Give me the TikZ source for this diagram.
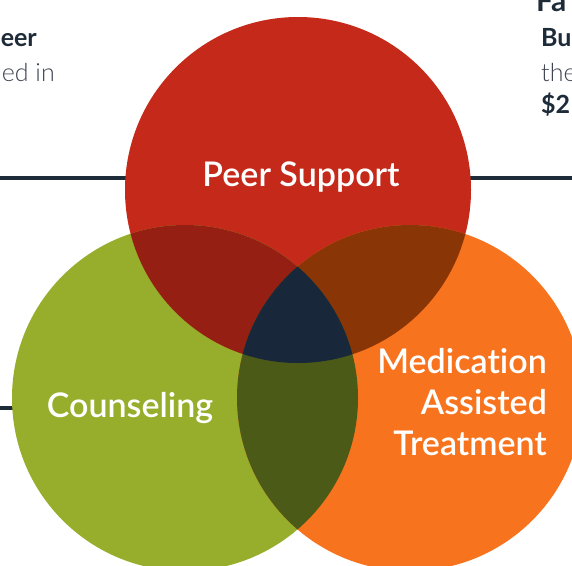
\documentclass[tikz,border=0pt]{standalone}
\usepackage{fontspec}
\setmainfont{Lato}[Ligatures=CommonOff]
\newfontfamily\latolight{Lato Light}[Ligatures=CommonOff]
\newfontfamily\latosemi{Lato Semibold}[Ligatures=CommonOff]
\definecolor{cred}{HTML}{C4291A}
\definecolor{cgreen}{HTML}{96AE2B}
\definecolor{corange}{HTML}{F7731E}
\definecolor{crg}{HTML}{951F12}
\definecolor{cro}{HTML}{8A3506}
\definecolor{cgo}{HTML}{4B5A17}
\definecolor{call}{HTML}{182739}
\definecolor{cline}{HTML}{1E2B38}
\definecolor{ctext}{HTML}{1E2B38}
\definecolor{clight}{HTML}{3E4550}
\tikzset{
  lbl/.style={text=white,font=\fontsize{34}{40}\selectfont\latosemi,inner sep=0pt},
  bodyb/.style={text=ctext,font=\fontsize{25}{29}\selectfont\bfseries,inner sep=0pt},
  bodyl/.style={text=clight,font=\fontsize{25}{29}\selectfont\latolight,inner sep=0pt},
  rule/.style={draw=cline,line width=4pt}
}
\begin{document}
\begin{tikzpicture}[x=1pt,y=-1pt]
\useasboundingbox (0,0) rectangle (572,565);
\clip (0,0) rectangle (572,565);
\coordinate (R) at (298,190);
\coordinate (G) at (185,398);
\coordinate (O) at (410,398);
\def\rr{173}
% rules
\coordinate (l1a) at (0,178);
\coordinate (l1b) at (572,178);
\coordinate (l2a) at (0,408);
\coordinate (l2b) at (40,408);
\draw[rule] (l1a) -- (l1b);
\draw[rule] (l2a) -- (l2b);
% side texts
\node[bodyb,anchor=base east] (t1) at (37,46) {eer};
\node[bodyl,anchor=base east] (t2) at (55,81) {ed in};
\node[text=ctext,font=\fontsize{30}{34}\selectfont\bfseries,inner sep=0pt,anchor=base west] (t3) at (536,11) {Fa};
\node[bodyb,anchor=base west] (t4) at (541,46) {Bu};
\node[bodyl,anchor=base west] (t5) at (541,81) {the};
\node[bodyb,anchor=base west] (t6) at (541,113) {\$2};
% circles
\fill[cred] (R) circle (\rr);
\fill[cgreen] (G) circle (\rr);
\fill[corange] (O) circle (\rr);
\begin{scope}
\clip (R) circle (\rr);
\fill[crg] (G) circle (\rr);
\fill[cro] (O) circle (\rr);
\end{scope}
\begin{scope}
\clip (G) circle (\rr);
\fill[cgo] (O) circle (\rr);
\end{scope}
\begin{scope}
\clip (R) circle (\rr);
\clip (G) circle (\rr);
\fill[call] (O) circle (\rr);
\end{scope}
% labels
\node[lbl,anchor=base] (peer) at (301,186) {Peer Support};
\node[lbl,anchor=base] (couns) at (130,417) {Counseling};
\node[lbl,anchor=base east] (med1) at (547,373) {Medication};
\node[lbl,anchor=base east] (med2) at (547,414) {Assisted};
\node[lbl,anchor=base east] (med3) at (547,455) {Treatment};
\end{tikzpicture}
\end{document}
